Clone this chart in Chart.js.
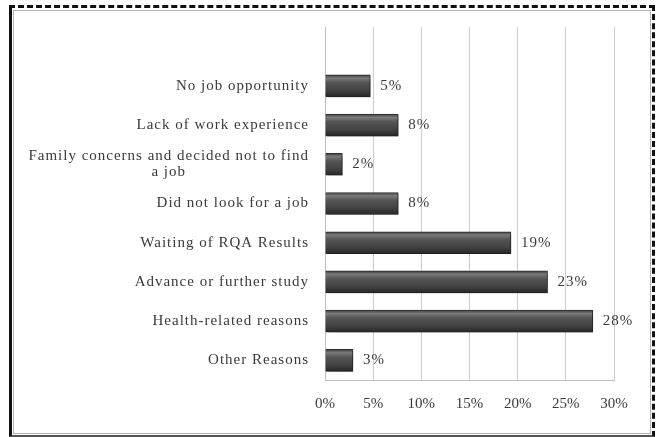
<!DOCTYPE html>
<html>
<head>
<meta charset="utf-8">
<script src="https://cdn.jsdelivr.net/npm/chart.js@4"></script>
<style>
  html, body { margin: 0; padding: 0; background: #fff; }
  #frame {
    position: absolute; left: 9px; top: 5px; width: 640px; height: 427px;
    border-top: 3px dashed #111; border-right: 3px dashed #111;
    border-left: 3px solid #111; border-bottom: 2px solid #555;
  }
  #inner { position: absolute; left: 1px; top: 2px; right: 1px; bottom: 1px; border: 1px solid #b5b5b5; }
  #myChart-reasons { position: absolute; left: 0; top: 0; }
</style>
</head>
<body>
<div id="frame"><div id="inner"></div></div>
<canvas id="myChart-reasons" width="659" height="437"></canvas>
<script>
// reasons for not being employed (first row is blank in the source sheet)
const categories = [
    '',
    'No job opportunity',
    'Lack of work experience',
    ['Family concerns and decided not to find', 'a job'],
    'Did not look for a job',
    'Waiting of RQA Results',
    'Advance or further study',
    'Health-related reasons',
    'Other Reasons'
];
const shares = [null, 4.7, 7.6, 1.8, 7.6, 19.3, 23.1, 27.8, 2.9];
const shareLabels = ['', '5%', '8%', '2%', '8%', '19%', '23%', '28%', '3%'];
const xTicks = [0, 5, 10, 15, 20, 25, 30];

const serif = '"Liberation Serif", "Times New Roman", serif';
const textColor = '#3a3a3a';

// bar gradient, like the old excel cylinder look
function barFill(c) {
    const chart = c.chart;
    if (!chart.chartArea || !chart.scales.y) return '#4a4a4a';
    const y = chart.scales.y.getPixelForValue(c.dataIndex);
    const g = chart.ctx.createLinearGradient(0, y - 11, 0, y + 11);
    g.addColorStop(0, '#3c3c3c');
    g.addColorStop(0.15, '#7a7a7a');
    g.addColorStop(0.35, '#555555');
    g.addColorStop(0.7, '#434343');
    g.addColorStop(1, '#262626');
    return g;
}

const shadowPlugin = {
    id: 'shadow',
    beforeDatasetsDraw(chart) {
        const ctx = chart.ctx;
        ctx.save();
        ctx.shadowColor = 'rgba(0,0,0,0.35)';
        ctx.shadowOffsetX = 2;
        ctx.shadowOffsetY = 2;
        ctx.shadowBlur = 3;
    },
    afterDatasetsDraw(chart) {
        chart.ctx.restore();
    }
};

const labelPlugin = {
    id: 'labels',
    afterDraw(chart) {
        const ctx = chart.ctx;
        const yScale = chart.scales.y;
        const meta = chart.getDatasetMeta(0);
        ctx.save();
        ctx.font = '15px ' + serif;
        ctx.letterSpacing = '1px';
        ctx.fillStyle = textColor;
        ctx.textBaseline = 'middle';
        const right = chart.chartArea.left - 16;
        categories.forEach((cat, i) => {
            const lines = Array.isArray(cat) ? cat : [cat];
            const y = yScale.getPixelForValue(i);
            const lh = 16;
            const maxW = Math.max(...lines.map(l => ctx.measureText(l).width));
            lines.forEach((line, k) => {
                const ly = y + (k - (lines.length - 1) / 2) * lh;
                if (lines.length > 1) {
                    ctx.textAlign = 'center';
                    ctx.fillText(line, right - maxW / 2, ly);
                } else {
                    ctx.textAlign = 'right';
                    ctx.fillText(line, right, ly);
                }
            });
            // value label after the bar
            const el = meta.data[i];
            if (shareLabels[i] && el) {
                ctx.textAlign = 'left';
                ctx.fillText(shareLabels[i], el.x + 10, el.y);
            }
        });
        ctx.restore();
    }
};

const ctx1 = document.getElementById('myChart-reasons').getContext('2d');
const myChart1 = new Chart(ctx1, {
    type: 'bar',
    data: {
        labels: categories,
        datasets: [{
            data: shares,
            backgroundColor: barFill,
            borderColor: '#2e2e2e',
            borderWidth: 1,
            barThickness: 22
        }]
    },
    options: {
        indexAxis: 'y',
        responsive: false,
        animation: false,
        layout: { padding: { left: 325, right: 45, top: 27, bottom: 17 } },
        plugins: { legend: { display: false }, tooltip: { enabled: false } },
        scales: {
            x: {
                min: 0,
                max: 30,
                afterBuildTicks(scale) {
                    scale.ticks = xTicks.map(v => ({ value: v }));
                },
                afterFit(scale) { scale.height = 40; },
                grid: { color: '#cdcdcd', drawTicks: false },
                border: { color: '#bdbdbd' },
                ticks: {
                    padding: 15,
                    color: textColor,
                    font: { family: serif, size: 15 },
                    callback: v => v + '%'
                }
            },
            y: {
                afterFit(scale) { scale.width = 0; },
                grid: { display: false },
                border: { color: '#bdbdbd' },
                ticks: { display: false }
            }
        }
    },
    plugins: [shadowPlugin, labelPlugin]
});
</script>
</body>
</html>
